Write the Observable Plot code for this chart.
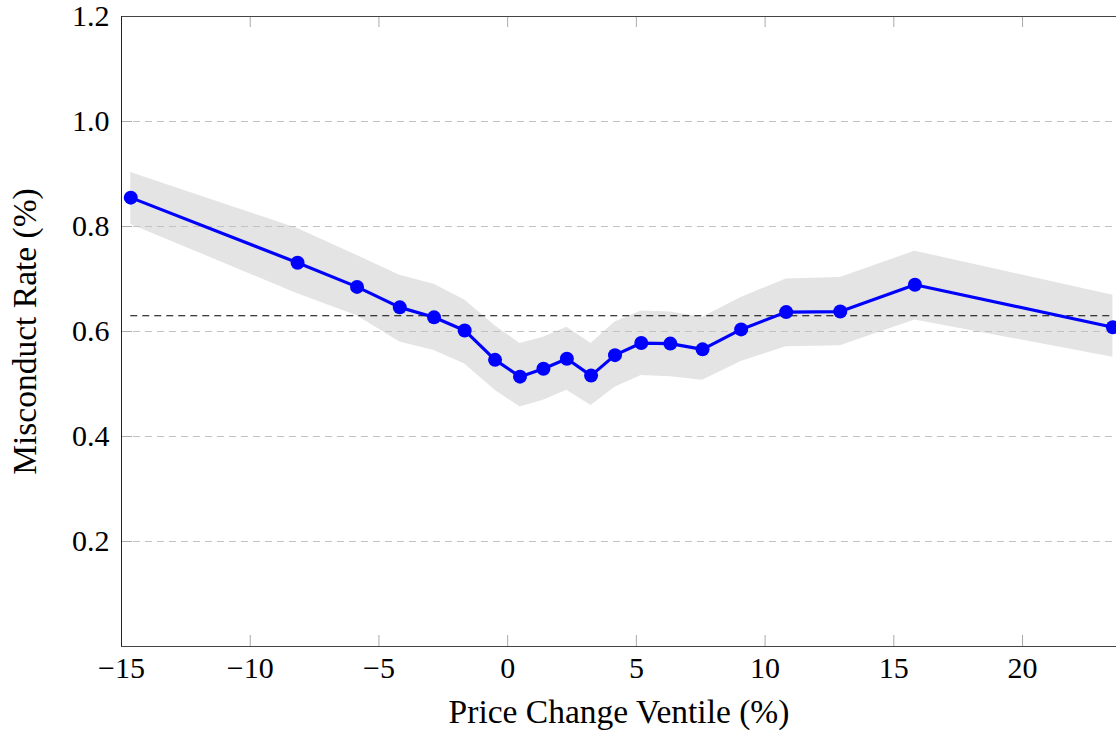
<!DOCTYPE html>
<html>
<head>
<meta charset="utf-8">
<script src="https://cdn.jsdelivr.net/npm/d3@7"></script>
<script src="https://cdn.jsdelivr.net/npm/@observablehq/plot@0.6"></script>
<style>
  html, body { margin: 0; padding: 0; background: #fff; }
  #chart svg { display: block; }
  #chart svg text { font-family: "Liberation Serif", "DejaVu Serif", serif; }
</style>
</head>
<body>
<div id="chart"></div>
<script>
// Price change ventile midpoints (%)
const ventile = [-14.64, -8.16, -5.85, -4.19, -2.86, -1.67, -0.49, 0.48, 1.39, 2.30, 3.24, 4.17, 5.19, 6.32, 7.57, 9.07, 10.82, 12.92, 15.82, 23.51];
// Misconduct rate (%)
const rate = [0.855, 0.731, 0.685, 0.646, 0.627, 0.602, 0.546, 0.514, 0.529, 0.548, 0.516, 0.555, 0.578, 0.577, 0.566, 0.604, 0.637, 0.638, 0.689, 0.608];
// Confidence band
const upper = [0.903, 0.796, 0.745, 0.707, 0.690, 0.660, 0.611, 0.577, 0.589, 0.608, 0.577, 0.618, 0.639, 0.637, 0.627, 0.665, 0.700, 0.703, 0.753, 0.669];
const lower = [0.804, 0.672, 0.630, 0.580, 0.564, 0.538, 0.488, 0.456, 0.469, 0.488, 0.459, 0.494, 0.516, 0.514, 0.507, 0.543, 0.571, 0.573, 0.622, 0.551];
// Average misconduct rate (reference line)
const averageRate = [0.63];
// Ticks
const xTicks = [-15, -10, -5, 0, 5, 10, 15, 20];
const yTicks = [0.2, 0.4, 0.6, 0.8, 1.0, 1.2];
const gridTicks = [0.2, 0.4, 0.6, 0.8, 1.0];
const xDomain = [-15, 23.65];
const yDomain = [0, 1.2];
const xLabel = "Price Change Ventile (%)";
const yLabel = "Misconduct Rate (%)";

const data = ventile.map((v, i) => ({x: v, y: rate[i], lo: lower[i], hi: upper[i]}));
const fmtX = d => d < 0 ? "\u2212" + Math.abs(d) : String(d);
const fmtY = d => d.toFixed(1);
const font = "'Liberation Serif', 'DejaVu Serif', serif";

const chart = Plot.plot({
  width: 1116,
  height: 731,
  marginLeft: 121,
  marginRight: 0,
  marginTop: 16,
  marginBottom: 85,
  style: {fontFamily: font, fontSize: "30px", color: "#000", background: "#fff"},
  x: {domain: xDomain},
  y: {domain: yDomain},
  marks: [
    Plot.areaY(data, {x: "x", y1: "lo", y2: "hi", fill: "#e4e4e4"}),
    Plot.ruleY(gridTicks, {stroke: "#c2c2c2", strokeWidth: 1, strokeDasharray: "7,5"}),
    Plot.ruleY(averageRate, {x1: ventile[0], x2: ventile[ventile.length - 1], stroke: "#000", strokeWidth: 1.1, strokeDasharray: "7,5"}),
    Plot.line(data, {x: "x", y: "y", stroke: "#0000ff", strokeWidth: 3.2}),
    Plot.dot(data, {x: "x", y: "y", r: 7, fill: "#0000ff", stroke: "none"}),
    // inward ticks
    Plot.ruleX(xTicks.slice(1), {y1: yDomain[0], y2: yDomain[0], insetTop: -11, stroke: "#aaa"}),
    Plot.ruleX(xTicks.slice(1), {y1: yDomain[1], y2: yDomain[1], insetBottom: -11, stroke: "#aaa"}),
    Plot.ruleY(yTicks, {x1: xDomain[0], x2: xDomain[0], insetRight: -11, stroke: "#aaa"}),
    // frame (left, bottom, top)
    Plot.ruleY([yDomain[0], yDomain[1]], {stroke: "#444", strokeWidth: 1}),
    Plot.ruleX([xDomain[0]], {stroke: "#222", strokeWidth: 1}),
    Plot.axisX({ticks: xTicks, tickSize: 0, tickPadding: 10, tickFormat: fmtX, fontSize: 30,
      label: null}),
    Plot.axisX({ticks: [], tickSize: 0, fontSize: 33.5,
      label: xLabel, labelAnchor: "center", labelArrow: "none", labelOffset: 76}),
    Plot.axisY({ticks: yTicks, tickSize: 0, tickPadding: 12, tickFormat: fmtY, fontSize: 30,
      label: null}),
    Plot.axisY({ticks: [], tickSize: 0, fontSize: 33.5,
      label: yLabel, labelAnchor: "center", labelArrow: "none", labelOffset: 109})
  ]
});
document.getElementById("chart").appendChild(chart);
</script>
</body>
</html>
